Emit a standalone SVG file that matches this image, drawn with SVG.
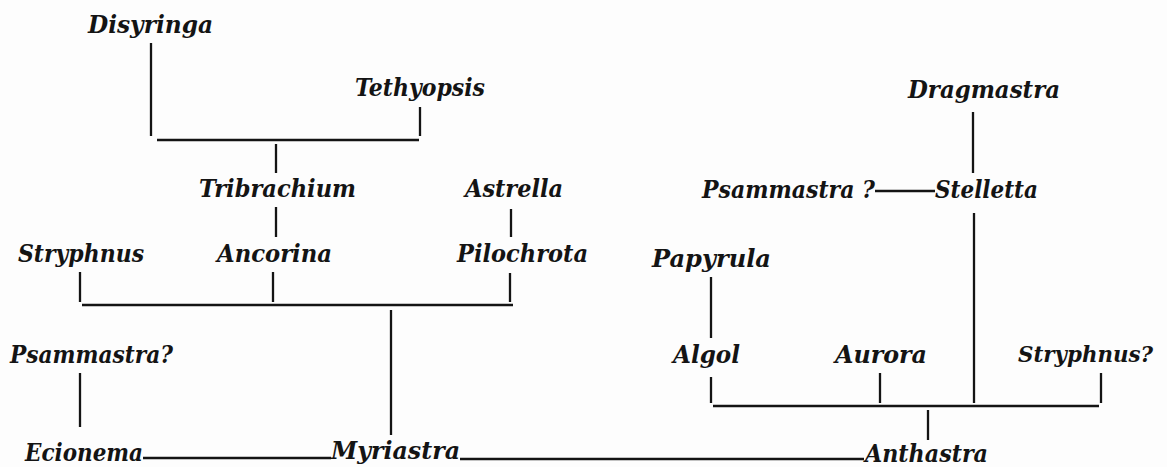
<svg xmlns="http://www.w3.org/2000/svg" width="1167" height="467" viewBox="0 0 1167 467">
<style>
.t{font-family:"DejaVu Serif","Liberation Serif",serif;font-style:italic;font-weight:bold;font-size:25px;fill:#141414}
.c line{stroke:#141414;stroke-width:2.3;stroke-linecap:butt}
</style>
<rect width="1167" height="467" fill="#fdfdfd"/>
<g id="connectors" class="c">
<line x1="151" y1="43" x2="151" y2="136"/>
<line x1="420" y1="107" x2="420" y2="136"/>
<line x1="157" y1="140" x2="419" y2="140"/>
<line x1="276" y1="144" x2="276" y2="173"/>
<line x1="276" y1="207" x2="276" y2="237"/>
<line x1="511" y1="209" x2="511" y2="237"/>
<line x1="80" y1="272" x2="80" y2="302"/>
<line x1="273" y1="272" x2="273" y2="302"/>
<line x1="510" y1="273" x2="510" y2="302"/>
<line x1="82" y1="305" x2="513" y2="305"/>
<line x1="391" y1="310" x2="391" y2="435"/>
<line x1="80" y1="373" x2="80" y2="427"/>
<line x1="143" y1="458" x2="331" y2="458"/>
<line x1="460" y1="459" x2="864" y2="459"/>
<line x1="973" y1="112" x2="973" y2="173"/>
<line x1="875" y1="191" x2="935" y2="191"/>
<line x1="974" y1="213" x2="974" y2="403"/>
<line x1="711" y1="277" x2="711" y2="338"/>
<line x1="711" y1="377" x2="711" y2="403"/>
<line x1="880" y1="373" x2="880" y2="403"/>
<line x1="1101" y1="373" x2="1101" y2="403"/>
<line x1="713" y1="406" x2="1099" y2="406"/>
<line x1="928" y1="410" x2="928" y2="440"/>
</g>
<g id="disyringa"><text class="t" x="88" y="33" textLength="125" lengthAdjust="spacingAndGlyphs">Disyringa</text></g>
<g id="tethyopsis"><text class="t" x="355" y="96" textLength="130" lengthAdjust="spacingAndGlyphs">Tethyopsis</text></g>
<g id="dragmastra"><text class="t" x="908" y="98" textLength="152" lengthAdjust="spacingAndGlyphs">Dragmastra</text></g>
<g id="tribrachium"><text class="t" x="199" y="197" textLength="157" lengthAdjust="spacingAndGlyphs">Tribrachium</text></g>
<g id="astrella"><text class="t" x="465" y="197" textLength="98" lengthAdjust="spacingAndGlyphs">Astrella</text></g>
<g id="psammastra-right"><text class="t" x="702" y="198" textLength="173" lengthAdjust="spacingAndGlyphs">Psammastra ?</text></g>
<g id="stelletta"><text class="t" x="935" y="198" textLength="103" lengthAdjust="spacingAndGlyphs">Stelletta</text></g>
<g id="stryphnus"><text class="t" x="18" y="262" textLength="126" lengthAdjust="spacingAndGlyphs">Stryphnus</text></g>
<g id="ancorina"><text class="t" x="217" y="262" textLength="115" lengthAdjust="spacingAndGlyphs">Ancorina</text></g>
<g id="pilochrota"><text class="t" x="457" y="262" textLength="131" lengthAdjust="spacingAndGlyphs">Pilochrota</text></g>
<g id="papyrula"><text class="t" x="652" y="267" textLength="119" lengthAdjust="spacingAndGlyphs">Papyrula</text></g>
<g id="psammastra-left"><text class="t" x="10" y="363" textLength="163" lengthAdjust="spacingAndGlyphs">Psammastra?</text></g>
<g id="algol"><text class="t" x="673" y="363" textLength="67" lengthAdjust="spacingAndGlyphs">Algol</text></g>
<g id="aurora"><text class="t" x="835" y="363" textLength="92" lengthAdjust="spacingAndGlyphs">Aurora</text></g>
<g id="stryphnus-q"><text class="t" x="1018" y="362" textLength="135" lengthAdjust="spacingAndGlyphs" style="font-size:22px">Stryphnus?</text></g>
<g id="ecionema"><text class="t" x="25" y="461" textLength="118" lengthAdjust="spacingAndGlyphs">Ecionema</text></g>
<g id="myriastra"><text class="t" x="331" y="459" textLength="129" lengthAdjust="spacingAndGlyphs">Myriastra</text></g>
<g id="anthastra"><text class="t" x="865" y="462" textLength="123" lengthAdjust="spacingAndGlyphs">Anthastra</text></g>
</svg>
